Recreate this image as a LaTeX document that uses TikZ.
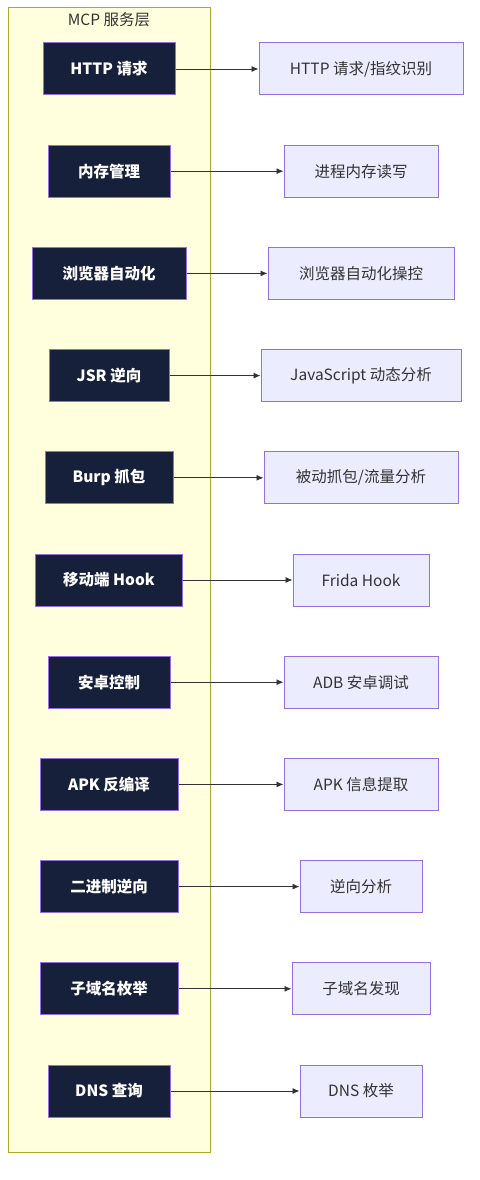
\documentclass[tikz,border=0pt]{standalone}
\usepackage{fontspec}
\setmainfont{Noto Sans CJK SC}
\usetikzlibrary{arrows.meta}

\definecolor{navyfill}{HTML}{17203A}
\definecolor{purpleline}{HTML}{9370DB}
\definecolor{lightfill}{HTML}{ECECFF}
\definecolor{layerfill}{HTML}{FFFFDE}
\definecolor{layerline}{HTML}{AAAA33}
\definecolor{textgray}{HTML}{333333}

\tikzset{
  layerbox/.style={draw=layerline, fill=layerfill, line width=1pt},
  layertitle/.style={text=textgray, font=\fontsize{15.5}{17}\selectfont},
  toolbox/.style={draw=purpleline, fill=navyfill, text=white, line width=1pt,
    minimum height=52pt, inner xsep=2pt, font=\fontsize{15.5}{17}\selectfont\bfseries},
  capbox/.style={draw=purpleline, fill=lightfill, text=textgray, line width=1pt,
    minimum height=52pt, inner xsep=2pt, font=\fontsize{15.5}{17}\selectfont},
  flow/.style={draw=textgray, line width=0.9pt, -{Latex[length=7pt,width=6pt]}}
}

\begin{document}
\begin{tikzpicture}[x=1pt,y=-1pt]
    \useasboundingbox (0,0) rectangle (479,1180);

    % service layer
    \draw[layerbox] (8,8) rectangle (210,1152);
    \node[layertitle] (layer) at (109,20) {MCP 服务层};

    \foreach \i/\lw/\lt/\rw/\rt in {
        1/132/{HTTP 请求}/204/{HTTP 请求/指纹识别},
        2/122/{内存管理}/154/{进程内存读写},
        3/154/{浏览器自动化}/186/{浏览器自动化操控},
        4/120/{JSR 逆向}/200/{JavaScript 动态分析},
        5/128/{Burp 抓包}/194/{被动抓包/流量分析},
        6/147/{移动端 Hook}/136/{Frida Hook},
        7/122/{安卓控制}/154/{ADB 安卓调试},
        8/138/{APK 反编译}/154/{APK 信息提取},
        9/138/{二进制逆向}/122/{逆向分析},
        10/138/{子域名枚举}/138/{子域名发现},
        11/122/{DNS 查询}/122/{DNS 枚举}}{
        \pgfmathsetmacro{\yy}{69+102.2*(\i-1)}
        \node[toolbox, minimum width=\lw pt] (tool\i) at (109,\yy) {\lt};
        \node[capbox, minimum width=\rw pt] (cap\i) at (361,\yy) {\rt};
        \draw[flow] (tool\i) -- (cap\i);
    }
\end{tikzpicture}
\end{document}
